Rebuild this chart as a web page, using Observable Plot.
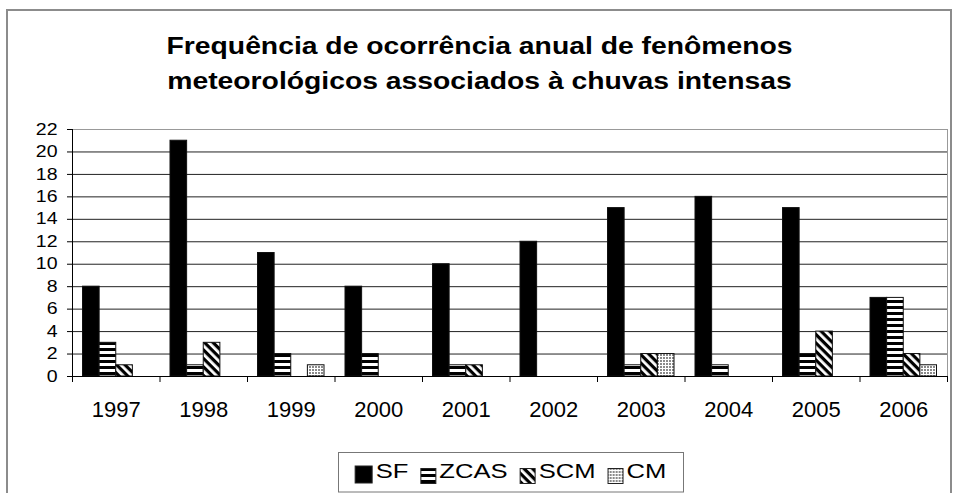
<!DOCTYPE html>
<html><head><meta charset="utf-8">
<script src="https://cdn.jsdelivr.net/npm/d3@7"></script>
<script src="https://cdn.jsdelivr.net/npm/@observablehq/plot@0.6"></script>
<style>
html,body{margin:0;padding:0;background:#fff;overflow:hidden}
#wrap{position:relative;width:954px;height:493px;overflow:hidden;font-family:"Liberation Sans",Arial,sans-serif}
#outer{position:absolute;left:6px;top:9px;width:946px;height:520px;border:2px solid #8c8c8c;box-sizing:border-box}
#chart{position:absolute;left:0;top:0}
#overlay{position:absolute;left:0;top:0}
</style></head><body>
<div id="wrap"><div id="outer"></div><div id="chart"></div><svg id="overlay" width="954" height="493"></svg></div>
<script>
// ---- data ----
const years = [1997, 1998, 1999, 2000, 2001, 2002, 2003, 2004, 2005, 2006];
const seriesNames = ["SF", "ZCAS", "SCM", "CM"];
const sfValues   = [8, 21, 11, 8, 10, 12, 15, 16, 15, 7];
const zcasValues = [3, 1, 2, 2, 1, 0, 1, 1, 2, 7];
const scmValues  = [1, 3, 0, 0, 1, 0, 2, 0, 4, 2];
const cmValues   = [0, 0, 1, 0, 0, 0, 2, 0, 0, 1];
const yTickValues = [0, 2, 4, 6, 8, 10, 12, 14, 16, 18, 20, 22];
const titleLines = ["Frequência de ocorrência anual de fenômenos", "meteorológicos associados à chuvas intensas"];

const valuesBySeries = {SF: sfValues, ZCAS: zcasValues, SCM: scmValues, CM: cmValues};
const fills = {SF: "#000000", ZCAS: "url(#pat-zcas)", SCM: "url(#pat-scm)", CM: "url(#pat-cm)"};
const rows = years.flatMap((year, yi) => seriesNames.map((series, si) => ({year, series, si, value: valuesBySeries[series][yi]})));
const boundaries = years.map(y => y - 0.5).concat([years[years.length - 1] + 0.5]);

const groupPad = 0.12, barW = 0.19;
const bx1 = d => d.year - 0.5 + groupPad + d.si * barW;
const bx2 = d => bx1(d) + barW;

const FONT = '"Liberation Sans", Arial, sans-serif';

const plot = Plot.plot({
  width: 954, height: 493,
  marginLeft: 72, marginRight: 7, marginTop: 129, marginBottom: 117,
  style: {fontFamily: FONT, fontSize: "16px", color: "#000", background: "transparent", overflow: "visible"},
  x: {type: "linear", domain: [boundaries[0], boundaries[boundaries.length - 1]]},
  y: {domain: [0, 22]},
  marks: [
    Plot.gridY(yTickValues, {stroke: "#222", strokeOpacity: 1}),
    Plot.frame({stroke: "#999"}),
    ...seriesNames.map(s => Plot.rectY(rows.filter(d => d.series === s && d.value > 0), {
      x1: bx1, x2: bx2, y: "value", fill: fills[s], stroke: "#111", strokeWidth: 1
    })),
    Plot.ruleY([0], {stroke: "#000"}),
    Plot.ruleX([boundaries[0]], {stroke: "#000"}),
    Plot.axisY({ticks: yTickValues, tickSize: 5, tickPadding: 10, label: null, fontSize: 16, stroke: "#000"}),
    Plot.axisX({ticks: boundaries, tickSize: 6, tickFormat: () => "", label: null, stroke: "#000"}),
    Plot.axisX({ticks: years, tickSize: 0, tickPadding: 25, tickFormat: d => String(d), label: null, fontSize: 22})
  ]
});
document.getElementById("chart").appendChild(plot);

// patterns
const defs = d3.select(plot).insert("defs", ":first-child");
const pz = defs.append("pattern").attr("id", "pat-zcas").attr("patternUnits", "userSpaceOnUse").attr("width", 6).attr("height", 6);
pz.append("rect").attr("width", 6).attr("height", 6).attr("fill", "#fff");
pz.append("rect").attr("width", 6).attr("height", 3).attr("fill", "#000");
const ps = defs.append("pattern").attr("id", "pat-scm").attr("patternUnits", "userSpaceOnUse").attr("width", 6).attr("height", 6).attr("patternTransform", "rotate(45)");
ps.append("rect").attr("width", 6).attr("height", 6).attr("fill", "#fff");
ps.append("rect").attr("width", 6).attr("height", 3.2).attr("fill", "#000");
const pc = defs.append("pattern").attr("id", "pat-cm").attr("patternUnits", "userSpaceOnUse").attr("width", 3).attr("height", 3);
pc.append("rect").attr("width", 3).attr("height", 3).attr("fill", "#fff");
pc.append("rect").attr("width", 2).attr("height", 2).attr("fill", "#8a8a8a");

// stretch y tick labels horizontally
d3.select(plot).selectAll('g[aria-label="y-axis tick label"] text').each(function() {
  const t = this.getAttribute("transform") || "";
  this.setAttribute("transform", t + " scale(1.22,1)");
});

// overlay: title + legend
const ov = d3.select("#overlay");
titleLines.forEach((line, i) => {
  ov.append("text")
    .attr("transform", `translate(479.5,${54 + i * 35}) scale(1.18,1)`)
    .attr("text-anchor", "middle")
    .style("font-family", FONT).style("font-weight", "bold").style("font-size", "24px")
    .attr("fill", "#000").text(line);
});

const lg = ov.append("g");
lg.append("rect").attr("x", 338.5).attr("y", 452.5).attr("width", 345).attr("height", 39.5)
  .attr("fill", "#fff").attr("stroke", "#777");
const items = lg.append("g");
let cx = 0;
const legScale = 1.28;
seriesNames.forEach((s, i) => {
  const sw = s === "SF" ? 17 : 15;
  items.append("rect").attr("x", cx + 0.5).attr("y", s === "SF" ? 466 : 468.5).attr("width", sw).attr("height", sw)
    .attr("fill", fills[s]).attr("stroke", "#222").attr("stroke-width", 1);
  cx += sw + 4;
  const t = items.append("text").attr("transform", `translate(${cx},478) scale(${legScale},1)`)
    .style("font-family", FONT).style("font-size", "20px").attr("fill", "#000").text(s);
  cx += t.node().getComputedTextLength() * legScale + 12;
});
cx -= 12;
items.attr("transform", `translate(${510.5 - cx / 2},0)`);
</script>
</body></html>
